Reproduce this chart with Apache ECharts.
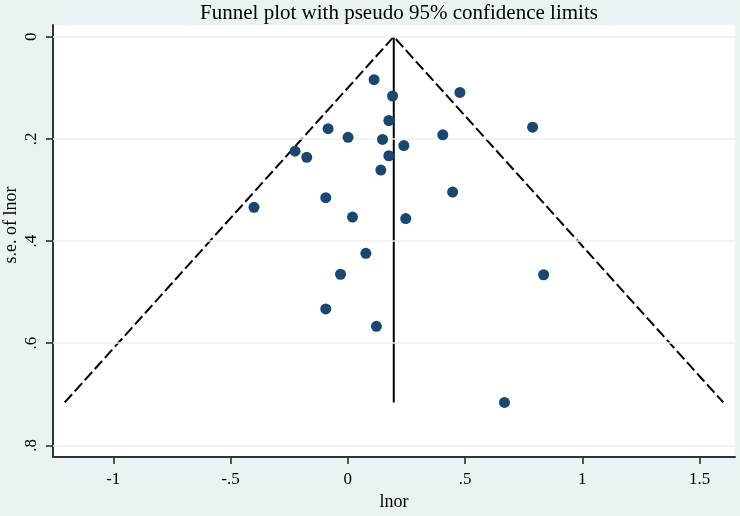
<!DOCTYPE html>
<html>
<head>
<meta charset="utf-8">
<script src="https://cdn.jsdelivr.net/npm/echarts@6/dist/echarts.min.js"></script>
<style>
html,body{margin:0;padding:0;background:#eaf2f3;}
#c{width:740px;height:516px;}
</style>
</head>
<body>
<div id="c"></div>
<script>
// Study estimates: lnor (x) and its standard error (y)
var lnor = [0.112, 0.191, 0.478, 0.175, 0.788, -0.084, 0.001, 0.148, 0.405, 0.239,
            -0.225, -0.175, 0.175, 0.141, 0.447, -0.094, -0.400, 0.020, 0.247, 0.077,
            -0.031, 0.835, -0.094, 0.122, 0.668];
var seLnor = [0.084, 0.116, 0.109, 0.164, 0.177, 0.180, 0.197, 0.201, 0.192, 0.213,
              0.224, 0.236, 0.233, 0.261, 0.304, 0.315, 0.334, 0.353, 0.356, 0.424,
              0.465, 0.466, 0.533, 0.567, 0.716];
// Pseudo 95% confidence limits (funnel) and pooled estimate line
var funnelX = [-1.207, 0.196, 1.601];
var funnelY = [0.716, 0, 0.716];
var pooledX = [0.196, 0.196];
var pooledY = [0, 0.716];
// Tick values
var xTicks = [-1, -0.5, 0, 0.5, 1, 1.5];
var yTicks = [0, 0.2, 0.4, 0.6, 0.8];

function fmt(v){
  var s = String(v);
  return s.replace(/^(-?)0\./, '$1.');
}
function zip(a, b){ return a.map(function(v, i){ return [v, b[i]]; }); }

var serif = '"Liberation Serif", "DejaVu Serif", serif';
var chart = echarts.init(document.getElementById('c'));
chart.setOption({
  backgroundColor: '#eaf2f3',
  animation: false,
  title: {
    text: 'Funnel plot with pseudo 95% confidence limits',
    left: 394, top: -2, textAlign: 'center',
    textStyle: { fontFamily: serif, fontSize: 21, fontWeight: 'normal', color: '#000' }
  },
  grid: {
    left: 53, right: 5, top: 25, bottom: 50,
    show: true, backgroundColor: '#ffffff', borderWidth: 0
  },
  xAxis: {
    type: 'value', min: -1.257, max: 1.651,
    name: 'lnor', nameLocation: 'middle', nameGap: 33,
    nameTextStyle: { fontFamily: serif, fontSize: 18, color: '#000' },
    axisLine: { show: true, onZero: false, lineStyle: { color: '#333', width: 2 } },
    axisTick: { show: true, length: 7, customValues: xTicks, lineStyle: { color: '#222', width: 1.5 } },
    axisLabel: { customValues: xTicks, formatter: fmt, margin: 14,
                 fontFamily: serif, fontSize: 17, color: '#000' },
    splitLine: { show: false }
  },
  yAxis: {
    type: 'value', inverse: true, min: -0.023, max: 0.823,
    axisLine: { show: true, onZero: false, lineStyle: { color: '#333', width: 2 } },
    axisTick: { show: true, length: 7, customValues: yTicks, lineStyle: { color: '#222', width: 1.5 } },
    axisLabel: { customValues: yTicks, formatter: fmt, rotate: 90, margin: 13,
                 fontFamily: serif, fontSize: 17, color: '#000' },
    splitLine: { show: false }
  },
  graphic: [{
    type: 'text', x: 11, y: 225, rotation: Math.PI / 2,
    style: { text: 's.e. of lnor', fontFamily: serif, fontSize: 18, fill: '#000',
             align: 'center', verticalAlign: 'middle' }
  }],
  series: [
    {
      type: 'line', silent: true, symbol: 'none', data: [],
      markLine: {
        silent: true, symbol: 'none', label: { show: false },
        lineStyle: { color: '#e6eff0', width: 1.5, type: 'solid' },
        data: yTicks.map(function(v){ return { yAxis: v }; })
      }
    },
    {
      type: 'line', data: zip(funnelX, funnelY), symbol: 'none', silent: true,
      lineStyle: { color: '#000', width: 2, type: [11, 4] }
    },
    {
      type: 'line', data: zip(pooledX, pooledY), symbol: 'none', silent: true,
      lineStyle: { color: '#000', width: 2, type: 'solid' }
    },
    {
      type: 'scatter', data: zip(lnor, seLnor), symbol: 'circle', symbolSize: 11,
      itemStyle: { color: '#1a476f', opacity: 1 }, z: 5
    }
  ]
});
</script>
</body>
</html>
